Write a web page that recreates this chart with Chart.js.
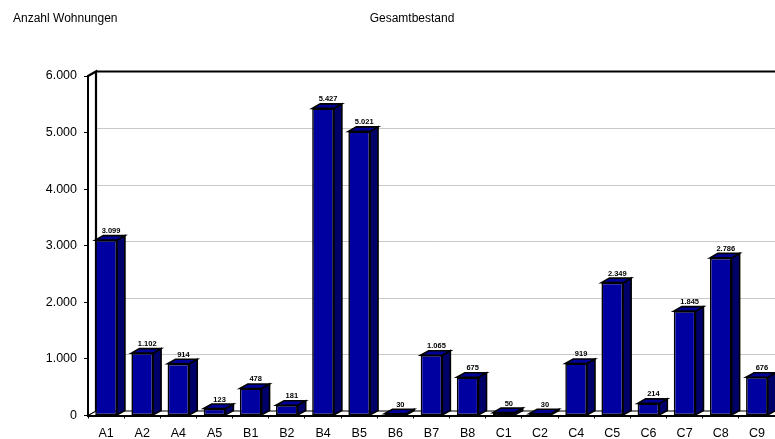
<!DOCTYPE html>
<html>
<head>
<meta charset="utf-8">
<script src="https://cdn.jsdelivr.net/npm/chart.js@4/dist/chart.umd.min.js"></script>
<style>
html,body{margin:0;padding:0;background:#fff;}
#wrap{width:775px;height:439px;position:relative;}
</style>
</head>
<body>
<div id="wrap"><canvas id="c" width="775" height="439"></canvas></div>
<script>
const categories = ["A1","A2","A4","A5","B1","B2","B4","B5","B6","B7","B8","C1","C2","C4","C5","C6","C7","C8","C9"];
const values = [3099,1102,914,123,478,181,5427,5021,30,1065,675,50,30,919,2349,214,1845,2786,676];
const yTickValues = [0,1000,2000,3000,4000,5000,6000];
const yAxisTitle = "Anzahl Wohnungen";
const chartTitle = "Gesamtbestand";

const FONT = "'Liberation Sans', Arial, sans-serif";
const DX = 8, DY = -4.5;
const FRONT = "rgb(0,0,160)", SIDE = "rgb(0,0,105)", TOP = "rgb(0,0,150)";

function fmt(v){
  const s = String(Math.round(v));
  return s.replace(/\B(?=(\d{3})+(?!\d))/g, ".");
}

const threeD = {
  id: "threeD",
  beforeDatasetsDraw(chart){
    const ctx = chart.ctx, a = chart.chartArea, y = chart.scales.y;
    ctx.save();
    ctx.strokeStyle = "#c8c8c8"; ctx.lineWidth = 1;
    yTickValues.forEach(v => {
      if (v === 0 || v === 6000) return;
      const py = Math.round(y.getPixelForValue(v) + DY) + 0.5;
      ctx.beginPath(); ctx.moveTo(a.left + DX, py); ctx.lineTo(a.right, py); ctx.stroke();
    });
    ctx.strokeStyle = "#000"; ctx.lineWidth = 2.2;
    const topY = y.getPixelForValue(6000);
    ctx.beginPath(); ctx.moveTo(a.left + DX, topY + DY); ctx.lineTo(a.right, topY + DY); ctx.stroke();
    const botY = y.getPixelForValue(0);
    ctx.beginPath();
    ctx.moveTo(a.left, topY); ctx.lineTo(a.left + DX, topY + DY); ctx.lineTo(a.left + DX, botY + DY);
    ctx.stroke();
    ctx.lineWidth = 1.2;
    ctx.beginPath(); ctx.moveTo(a.left, botY); ctx.lineTo(a.left + DX, botY + DY); ctx.lineTo(a.right, botY + DY); ctx.stroke();
    ctx.restore();
  },
  afterDatasetsDraw(chart){
    const ctx = chart.ctx;
    const meta = chart.getDatasetMeta(0);
    ctx.save();
    ctx.lineJoin = "miter";
    meta.data.forEach((bar, i) => {
      const p = bar.getProps(["x","y","base","width"], true);
      const l = p.x - p.width/2, r = p.x + p.width/2, t = p.y, b = p.base;
      ctx.lineWidth = 1.6; ctx.strokeStyle = "#000";
      ctx.beginPath();
      ctx.moveTo(r, t); ctx.lineTo(r + DX, t + DY); ctx.lineTo(r + DX, b + DY); ctx.lineTo(r, b); ctx.closePath();
      ctx.fillStyle = SIDE; ctx.fill(); ctx.stroke();
      ctx.beginPath();
      ctx.moveTo(l, t); ctx.lineTo(l + DX, t + DY); ctx.lineTo(r + DX, t + DY); ctx.lineTo(r, t); ctx.closePath();
      ctx.fillStyle = TOP; ctx.fill(); ctx.stroke();
      ctx.fillStyle = "#000";
      ctx.font = "bold 7.5px " + FONT;
      ctx.textAlign = "center"; ctx.textBaseline = "alphabetic";
      ctx.fillText(fmt(values[i]), p.x + DX/2 + 1, t + DY - 2.5);
    });
    ctx.restore();
  },
  afterDraw(chart){
    const ctx = chart.ctx;
    ctx.save();
    ctx.fillStyle = "#000";
    ctx.font = "12px " + FONT;
    ctx.textBaseline = "middle";
    ctx.textAlign = "left";
    ctx.fillText(yAxisTitle, 13, 19);
    ctx.textAlign = "center";
    ctx.fillText(chartTitle, 412, 19);
    ctx.restore();
  }
};

new Chart(document.getElementById("c"), {
  type: "bar",
  data: {
    labels: categories,
    datasets: [{
      data: values,
      backgroundColor: FRONT,
      borderColor: "#000",
      borderWidth: 1.6,
      borderSkipped: false,
      categoryPercentage: 1.0,
      barPercentage: 0.6
    }]
  },
  options: {
    responsive: false,
    animation: false,
    devicePixelRatio: 1,
    layout: { padding: { left: 0, right: 0, top: 76, bottom: 0 } },
    plugins: { legend: { display: false }, tooltip: { enabled: false }, title: { display: false } },
    scales: {
      x: {
        offset: true,
        grid: { display: true, drawOnChartArea: false, offset: true, color: "#000", tickLength: 3, lineWidth: 1 },
        border: { display: true, color: "#000", width: 2 },
        ticks: { color: "#000", font: { family: FONT, size: 12.5 }, padding: 8, maxRotation: 0, autoSkip: false },
        afterFit(s){ s.height = 439 - 415.5; }
      },
      y: {
        min: 0, max: 6000,
        afterBuildTicks(s){ s.ticks = yTickValues.map(v => ({ value: v })); },
        grid: { display: true, drawOnChartArea: false, color: "#000", tickLength: 4, lineWidth: 1 },
        border: { display: true, color: "#000", width: 2 },
        ticks: { color: "#000", font: { family: FONT, size: 12.5 }, padding: 7, callback: v => fmt(v) },
        afterFit(s){ s.width = 88; }
      }
    }
  },
  plugins: [threeD]
});
</script>
</body>
</html>
